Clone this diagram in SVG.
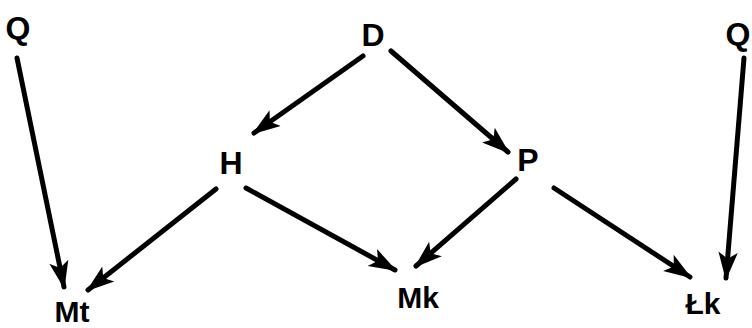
<svg xmlns="http://www.w3.org/2000/svg" width="752" height="328" viewBox="0 0 752 328">
<style>
.lbl{font-family:"Liberation Sans","DejaVu Sans",sans-serif;font-weight:bold;font-size:32px;fill:#000;text-anchor:middle;dominant-baseline:central}
.sm{font-size:30px}
.edge{stroke:#000;stroke-width:5;stroke-linecap:round;fill:none;marker-end:url(#ah)}
</style>
<defs>
<marker id="ah" markerUnits="userSpaceOnUse" markerWidth="28" markerHeight="22" refX="24" refY="9" orient="auto" viewBox="0 0 26 18">
<path d="M0,0 L26,9 L0,18 L6,9 Z" fill="#000"/>
</marker>
</defs>
<rect width="752" height="328" fill="#fff"/>
<g id="connectors">
<line class="edge" x1="17" y1="58" x2="64" y2="287"/>
<line class="edge" x1="363" y1="56" x2="254" y2="133"/>
<line class="edge" x1="391" y1="51" x2="508" y2="152"/>
<line class="edge" x1="216" y1="189" x2="88" y2="290"/>
<line class="edge" x1="246" y1="188" x2="395" y2="270"/>
<line class="edge" x1="516" y1="179" x2="416" y2="266"/>
<line class="edge" x1="554" y1="188" x2="690" y2="277"/>
<line class="edge" x1="744" y1="58" x2="726" y2="278"/>
</g>
<g id="node-Q1"><text class="lbl" x="18" y="28">Q</text></g>
<g id="node-D"><text class="lbl" x="373" y="35">D</text></g>
<g id="node-Q2"><text class="lbl" x="738" y="34">Q</text></g>
<g id="node-H"><text class="lbl" x="231" y="163">H</text></g>
<g id="node-P"><text class="lbl" x="528" y="160">P</text></g>
<g id="node-Mt"><text class="lbl sm" x="72" y="311">Mt</text></g>
<g id="node-Mk"><text class="lbl sm" x="418" y="297">Mk</text></g>
<g id="node-Lk"><text class="lbl sm" x="703" y="303">Łk</text></g>
</svg>
